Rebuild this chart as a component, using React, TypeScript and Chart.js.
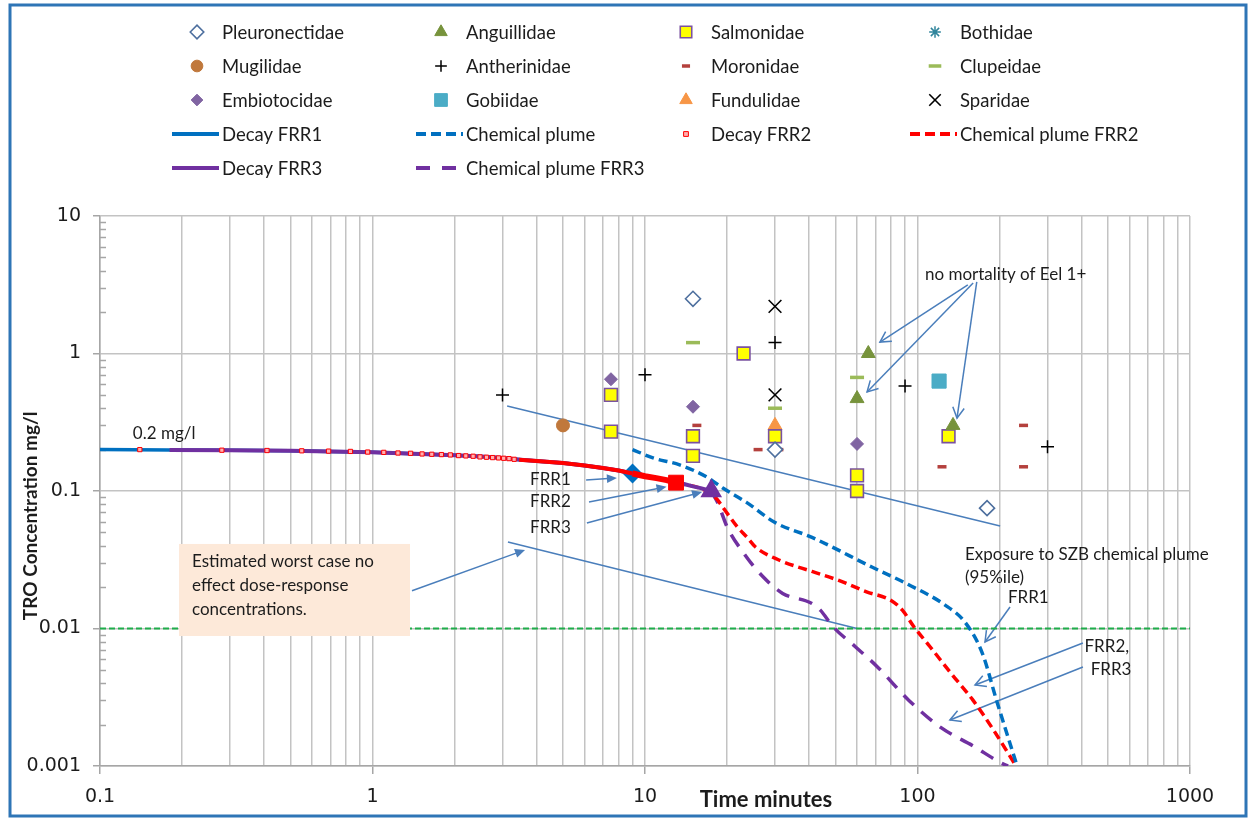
import React, { useEffect, useRef } from 'react';
import { Chart, registerables } from 'chart.js';
import { drawPoint } from 'chart.js/helpers';

Chart.register(...registerables);

// ---------- axis ticks ----------
const xDecades = [0.1, 1, 10, 100, 1000];
const xTickLabels = ['0.1', '1', '10', '100', '1000'];
const yDecades = [0.001, 0.01, 0.1, 1, 10];
const yTickLabels = ['0.001', '0.01', '0.1', '1', '10'];
const minorSteps = [2, 3, 4, 5, 6, 7, 8, 9];

// ---------- fish family dose-response observations (minutes, mg/l) ----------
const pleuronectidaeTime = [15, 30, 180];
const pleuronectidaeConc = [2.5, 0.2, 0.075];
const anguillidaeTime = [66, 60, 135];
const anguillidaeConc = [1.0, 0.47, 0.3];
const salmonidaeTime = [7.5, 7.5, 15, 15, 23, 30, 60, 60, 130];
const salmonidaeConc = [0.5, 0.27, 0.25, 0.18, 1.0, 0.25, 0.13, 0.1, 0.25];
const bothidaeTime: number[] = [];
const bothidaeConc: number[] = [];
const mugilidaeTime = [5];
const mugilidaeConc = [0.3];
const antherinidaeTime = [3, 10, 30, 90, 300];
const antherinidaeConc = [0.5, 0.7, 1.2, 0.58, 0.21];
const moronidaeTime = [15.5, 26, 31, 123, 245, 245];
const moronidaeConc = [0.3, 0.2, 0.2, 0.15, 0.3, 0.15];
const clupeidaeTime = [15, 30, 60];
const clupeidaeConc = [1.2, 0.4, 0.67];
const embiotocidaeTime = [7.5, 15, 60];
const embiotocidaeConc = [0.65, 0.41, 0.22];
const gobiidaeTime = [120];
const gobiidaeConc = [0.63];
const fundulidaeTime = [30];
const fundulidaeConc = [0.3];
const sparidaeTime = [30, 30];
const sparidaeConc = [2.2, 0.5];

// ---------- TRO decay in the cooling water ----------
const decayTime = [0.1, 0.18, 0.3, 0.5, 0.7, 1, 1.5, 2, 2.5, 3, 3.5, 4, 5, 6, 7, 8, 9, 10, 11, 12, 13, 14, 15, 16, 17.5];
const decayConc = [0.2, 0.199, 0.198, 0.196, 0.194, 0.191, 0.186, 0.182, 0.178, 0.174, 0.169, 0.165, 0.16, 0.153, 0.147, 0.141, 0.134, 0.128, 0.124, 0.12, 0.116, 0.112, 0.108, 0.105, 0.1];
const frr1End = 9;
const frr3Start = 0.18;
const frr2Time = [0.14, 0.28, 0.41, 0.55, 0.69, 0.83, 0.96, 1.1, 1.24, 1.38, 1.52, 1.65, 1.79, 1.93, 2.07, 2.2, 2.34, 2.48, 2.62, 2.76, 2.9, 3.03, 3.17, 3.31, 3.45, 4, 5, 6, 7, 8, 9, 10, 11, 12, 13];
const frr2Conc = [0.2, 0.198, 0.197, 0.196, 0.195, 0.194, 0.192, 0.191, 0.189, 0.188, 0.186, 0.185, 0.184, 0.183, 0.181, 0.18, 0.179, 0.177, 0.176, 0.175, 0.174, 0.173, 0.172, 0.17, 0.169, 0.165, 0.16, 0.153, 0.147, 0.141, 0.134, 0.128, 0.124, 0.12, 0.115];

// ---------- exposure in the SZB chemical plume (95%ile) ----------
const plumeTime = [9, 10.7, 13.4, 16.9, 19.3, 23.5, 30, 41, 68, 92, 125, 150, 173, 195, 232];
const plumeConc = [0.2, 0.174, 0.155, 0.126, 0.105, 0.083, 0.059, 0.046, 0.028, 0.021, 0.015, 0.011, 0.0066, 0.003, 0.001];
const plumeFrr2Time = [13, 16.5, 18.1, 20, 21.8, 23.7, 25.5, 31, 41, 51, 65, 80, 88, 97, 111, 133, 160, 191, 230];
const plumeFrr2Conc = [0.115, 0.102, 0.09, 0.069, 0.055, 0.046, 0.039, 0.0315, 0.026, 0.0225, 0.0185, 0.016, 0.0136, 0.0103, 0.0074, 0.0047, 0.003, 0.0018, 0.001];
const plumeFrr3Time = [17.5, 18.5, 20, 23.1, 27, 32, 41, 44, 49, 59, 71, 93, 122, 160, 203, 215];
const plumeFrr3Conc = [0.1, 0.082, 0.055, 0.035, 0.024, 0.018, 0.0152, 0.0136, 0.0103, 0.0074, 0.0053, 0.003, 0.0019, 0.0014, 0.00105, 0.001];

// ---------- no effect threshold ----------
const noEffectTime = [0.1, 1000];
const noEffectConc = [0.01, 0.01];

const LEGEND_ROWS = [
  ['Pleuronectidae', 'Anguillidae', 'Salmonidae', 'Bothidae'],
  ['Mugilidae', 'Antherinidae', 'Moronidae', 'Clupeidae'],
  ['Embiotocidae', 'Gobiidae', 'Fundulidae', 'Sparidae'],
  ['Decay FRR1', 'Chemical plume', 'Decay FRR2', 'Chemical plume FRR2'],
  ['Decay FRR3', 'Chemical plume FRR3'],
];

const BLUE = '#0070c0';
const RED = '#ff0000';
const PURPLE = '#7030a0';
const NOTE = '#4a7ebb';
const TEXT = '#1c1c1c';
const GRID = '#c3c3c3';
const AXIS = '#a6a6a6';
const CLEAR = 'rgba(0,0,0,0)';

const pts = (xs: number[], ys: number[]) => xs.map((x, i) => ({ x, y: ys[i] }));
const near = (a: number, b: number) => Math.abs(a - b) < b * 1e-6;
const withMinors = (decades: number[]) => {
  const out: number[] = [];
  decades.forEach((d, i) => {
    out.push(d);
    if (i < decades.length - 1) minorSteps.forEach((m) => out.push(Number((d * m).toPrecision(3))));
  });
  return out;
};
const isDecade = (v: number, decades: number[]) => decades.some((d) => near(v, d));
const labelOf = (v: number, decades: number[], labels: string[]) => {
  const i = decades.findIndex((d) => near(v, d));
  return i >= 0 ? labels[i] : '';
};

type Marker = { style: string; r: number; bg: string; border: string; bw: number };

const family = (label: string, t: number[], c: number[], m: Marker) => ({
  label,
  data: pts(t, c),
  showLine: false,
  pointStyle: m.style,
  pointRadius: m.r,
  pointHoverRadius: m.r,
  pointBackgroundColor: m.bg,
  pointBorderColor: m.border,
  pointBorderWidth: m.bw,
  order: 1,
  legendStyle: { kind: 'marker', ...m, r: m.r * 0.9 },
});

// annotation geometry in data units (minutes, mg/l)
const guideLines = [
  [[3.12, 0.415], [201, 0.0557]],
  [[3.14, 0.0426], [60, 0.01]],
];
const arrows: { from: number[]; to: number[]; filled: boolean }[] = [
  { from: [1.396, 0.0188], to: [3.63, 0.0373], filled: true },
  { from: [6.08, 0.1204], to: [7.89, 0.1243], filled: true },
  { from: [6.23, 0.0832], to: [12.0, 0.1073], filled: true },
  { from: [6.12, 0.0585], to: [16.2, 0.0985], filled: true },
  { from: [153, 3.15], to: [72.8, 1.21], filled: false },
  { from: [160, 3.26], to: [65.3, 0.525], filled: false },
  { from: [165, 3.32], to: [139.6, 0.339], filled: false },
  { from: [218.5, 0.01434], to: [176.9, 0.00798], filled: false },
  { from: [404.6, 0.00784], to: [162.6, 0.00388], filled: false },
  { from: [404.6, 0.00525], to: [131.5, 0.00216], filled: false },
];
const notes: { text: string; at: number[] }[] = [
  { text: '0.2 mg/l', at: [0.132, 0.26] },
  { text: 'FRR1', at: [3.785, 0.1204] },
  { text: 'FRR2', at: [3.785, 0.0832] },
  { text: 'FRR3', at: [3.785, 0.0547] },
  { text: 'no mortality of Eel 1+', at: [106.5, 3.73] },
  { text: 'Exposure to SZB chemical plume', at: [149.3, 0.0343] },
  { text: '(95%ile)', at: [149.3, 0.0233] },
  { text: 'FRR1', at: [214.7, 0.01667] },
  { text: 'FRR2,', at: [410, 0.00734] },
  { text: 'FRR3', at: [432, 0.00499] },
];
const boxCorners = [[0.195, 0.0412], [1.373, 0.00882]];
const boxLines = ['Estimated worst case no', 'effect dose-response', 'concentrations.'];
const boxLineAt = [[0.2176, 0.0305], [0.2176, 0.0204], [0.2176, 0.01363]];

const LEGEND_COL_X = [222, 466, 711, 960];
const LEGEND_ROW_Y = [32, 66, 100, 134, 168];

function markerAt(ctx: CanvasRenderingContext2D, m: Marker, x: number, y: number) {
  ctx.save();
  ctx.fillStyle = m.bg;
  ctx.strokeStyle = m.border;
  ctx.lineWidth = m.bw;
  drawPoint(ctx, { pointStyle: m.style as any, radius: m.r, rotation: 0, borderWidth: m.bw }, x, y);
  ctx.restore();
}

function arrowPath(ctx: CanvasRenderingContext2D, x1: number, y1: number, x2: number, y2: number, filled: boolean) {
  const ang = Math.atan2(y2 - y1, x2 - x1);
  const len = filled ? 11 : 12;
  const spread = filled ? 0.42 : 0.5;
  const ax = x2 - len * Math.cos(ang - spread);
  const ay = y2 - len * Math.sin(ang - spread);
  const bx = x2 - len * Math.cos(ang + spread);
  const by = y2 - len * Math.sin(ang + spread);
  ctx.beginPath();
  ctx.moveTo(x1, y1);
  ctx.lineTo(filled ? x2 - len * 0.8 * Math.cos(ang) : x2, filled ? y2 - len * 0.8 * Math.sin(ang) : y2);
  ctx.stroke();
  ctx.beginPath();
  if (filled) {
    ctx.moveTo(x2, y2);
    ctx.lineTo(ax, ay);
    ctx.lineTo(bx, by);
    ctx.closePath();
    ctx.fill();
  } else {
    ctx.moveTo(ax, ay);
    ctx.lineTo(x2, y2);
    ctx.lineTo(bx, by);
    ctx.stroke();
  }
}

const decorPlugin = {
  id: 'decor',
  beforeDraw(chart: any) {
    const ctx = chart.ctx as CanvasRenderingContext2D;
    ctx.save();
    ctx.fillStyle = '#ffffff';
    ctx.fillRect(0, 0, chart.width, chart.height);
    ctx.restore();
  },
  beforeDatasetsDraw(chart: any) {
    const ctx = chart.ctx as CanvasRenderingContext2D;
    const xs = chart.scales.x;
    const ys = chart.scales.y;
    const X = (v: number) => xs.getPixelForValue(v);
    const Y = (v: number) => ys.getPixelForValue(v);
    const area = chart.chartArea;

    // inward minor ticks on the concentration axis
    ctx.save();
    ctx.strokeStyle = AXIS;
    ctx.lineWidth = 1.5;
    ys.ticks.forEach((t: any) => {
      if (isDecade(t.value, yDecades)) return;
      const py = Math.round(Y(t.value)) + 0.5;
      ctx.beginPath();
      ctx.moveTo(area.left, py);
      ctx.lineTo(area.left + 6, py);
      ctx.stroke();
    });
    ctx.restore();

    // guide lines and arrows
    ctx.save();
    ctx.strokeStyle = NOTE;
    ctx.fillStyle = NOTE;
    ctx.lineWidth = 1.5;
    guideLines.forEach(([a, b]) => {
      ctx.beginPath();
      ctx.moveTo(X(a[0]), Y(a[1]));
      ctx.lineTo(X(b[0]), Y(b[1]));
      ctx.stroke();
    });
    arrows.forEach((a) => arrowPath(ctx, X(a.from[0]), Y(a.from[1]), X(a.to[0]), Y(a.to[1]), a.filled));
    ctx.restore();
  },
  afterDatasetsDraw(chart: any) {
    const ctx = chart.ctx as CanvasRenderingContext2D;
    const xs = chart.scales.x;
    const ys = chart.scales.y;
    const X = (v: number) => xs.getPixelForValue(v);
    const Y = (v: number) => ys.getPixelForValue(v);
    const area = chart.chartArea;

    // note box
    ctx.save();
    const bx0 = X(boxCorners[0][0]);
    const by0 = Y(boxCorners[0][1]);
    const bx1 = X(boxCorners[1][0]);
    const by1 = Y(boxCorners[1][1]);
    ctx.fillStyle = '#fde9d9';
    ctx.fillRect(bx0, by0, bx1 - bx0, by1 - by0);
    ctx.fillStyle = TEXT;
    ctx.font = '17px Lato';
    ctx.textBaseline = 'middle';
    ctx.textAlign = 'left';
    boxLines.forEach((s, i) => ctx.fillText(s, X(boxLineAt[i][0]), Y(boxLineAt[i][1])));

    // text notes
    ctx.font = '17px Lato';
    notes.forEach((n) => ctx.fillText(n.text, X(n.at[0]), Y(n.at[1])));

    // axis titles
    ctx.font = 'bold 22px Lato';
    ctx.textAlign = 'center';
    ctx.fillText('Time minutes', X(27.8), area.bottom + 34);
    ctx.save();
    ctx.translate(area.left - 69, Y(0.066));
    ctx.rotate(-Math.PI / 2);
    ctx.font = 'bold 19px Lato';
    ctx.fillText('TRO Concentration mg/l', 0, 0);
    ctx.restore();
    ctx.restore();
  },
  afterDraw(chart: any) {
    const ctx = chart.ctx as CanvasRenderingContext2D;
    const byLabel = (name: string) => chart.data.datasets.find((d: any) => d.label === name);

    // legend grid
    ctx.save();
    ctx.font = '18.5px Lato';
    ctx.fillStyle = TEXT;
    ctx.textBaseline = 'middle';
    ctx.textAlign = 'left';
    LEGEND_ROWS.forEach((row, r) => {
      row.forEach((name, c) => {
        const ds = byLabel(name);
        const tx = LEGEND_COL_X[c];
        const ty = LEGEND_ROW_Y[r];
        const ls = ds.legendStyle;
        if (ls.kind === 'line') {
          ctx.save();
          ctx.strokeStyle = ls.color;
          ctx.lineWidth = ls.width;
          ctx.setLineDash(ls.dash);
          ctx.beginPath();
          ctx.moveTo(tx - 50, ty);
          ctx.lineTo(tx - 3, ty);
          ctx.stroke();
          ctx.restore();
        } else {
          markerAt(ctx, ls, tx - 25, ty);
        }
        ctx.fillStyle = TEXT;
        ctx.fillText(name, tx, ty + 1);
      });
    });
    ctx.restore();

    // outer frame
    ctx.save();
    ctx.strokeStyle = '#2e75b6';
    ctx.lineWidth = 3;
    ctx.strokeRect(10, 5, 1236, 811);
    ctx.restore();
  },
};

export default function App() {
  const canvasRef = useRef<HTMLCanvasElement>(null);

  useEffect(() => {
    const frr1Idx = decayTime.filter((t) => t <= frr1End).length;
    const frr3From = decayTime.findIndex((t) => t >= frr3Start);
    const frr1 = pts(decayTime.slice(0, frr1Idx), decayConc.slice(0, frr1Idx));
    const frr3 = pts(decayTime.slice(frr3From), decayConc.slice(frr3From));
    const frr2 = pts(frr2Time, frr2Conc);
    const markerLimit = 3.4;

    const datasets: any[] = [
      family('Pleuronectidae', pleuronectidaeTime, pleuronectidaeConc, { style: 'rectRot', r: 7.5, bg: '#ffffff', border: '#4d6f9e', bw: 1.6 }),
      family('Anguillidae', anguillidaeTime, anguillidaeConc, { style: 'triangle', r: 8, bg: '#77933c', border: '#77933c', bw: 1 }),
      family('Salmonidae', salmonidaeTime, salmonidaeConc, { style: 'rect', r: 9, bg: '#ffff00', border: '#7a52a0', bw: 1.6 }),
      family('Bothidae', bothidaeTime, bothidaeConc, { style: 'star', r: 6.5, bg: '#31859c', border: '#31859c', bw: 1.5 }),
      family('Mugilidae', mugilidaeTime, mugilidaeConc, { style: 'circle', r: 6.5, bg: '#c0783c', border: '#c0783c', bw: 1 }),
      family('Antherinidae', antherinidaeTime, antherinidaeConc, { style: 'cross', r: 6.5, bg: '#000000', border: '#000000', bw: 1.5 }),
      family('Moronidae', moronidaeTime, moronidaeConc, { style: 'line', r: 4.5, bg: '#b4403d', border: '#b4403d', bw: 3.5 }),
      family('Clupeidae', clupeidaeTime, clupeidaeConc, { style: 'line', r: 7, bg: '#9bbb59', border: '#9bbb59', bw: 3.5 }),
      family('Embiotocidae', embiotocidaeTime, embiotocidaeConc, { style: 'rectRot', r: 6.5, bg: '#8064a2', border: '#8064a2', bw: 1 }),
      family('Gobiidae', gobiidaeTime, gobiidaeConc, { style: 'rect', r: 10, bg: '#4bacc6', border: '#4bacc6', bw: 1 }),
      family('Fundulidae', fundulidaeTime, fundulidaeConc, { style: 'triangle', r: 8, bg: '#f79646', border: '#f79646', bw: 1 }),
      family('Sparidae', sparidaeTime, sparidaeConc, { style: 'crossRot', r: 9, bg: '#000000', border: '#000000', bw: 1.6 }),
      {
        label: 'Decay FRR2',
        data: frr2,
        showLine: true,
        borderColor: RED,
        borderWidth: 4,
        segment: {
          borderColor: (s: any) => (s.p0.parsed.x < markerLimit ? CLEAR : RED),
          borderWidth: (s: any) => (s.p0.parsed.x >= frr1End ? 6 : 4),
        },
        pointStyle: 'rect',
        pointRadius: (c: any) => (c.dataIndex === frr2.length - 1 ? 10.5 : c.raw && c.raw.x < markerLimit ? 3 : 0),
        pointBackgroundColor: (c: any) => (c.dataIndex === frr2.length - 1 ? RED : '#ffb0b0'),
        pointBorderColor: RED,
        pointBorderWidth: 1,
        order: 2,
        legendStyle: { kind: 'marker', style: 'rect', r: 3.4, bg: '#ffb0b0', border: RED, bw: 1 },
      },
      {
        label: 'Decay FRR3',
        data: frr3,
        showLine: true,
        borderColor: PURPLE,
        borderWidth: 4,
        pointStyle: 'triangle',
        pointRadius: (c: any) => (c.dataIndex === frr3.length - 1 ? 8.5 : 0),
        pointBackgroundColor: PURPLE,
        pointBorderColor: PURPLE,
        order: 3,
        legendStyle: { kind: 'line', color: PURPLE, width: 4, dash: [] },
      },
      {
        label: 'Decay FRR1',
        data: frr1,
        showLine: true,
        borderColor: BLUE,
        borderWidth: 3.5,
        pointStyle: 'rectRot',
        pointRadius: (c: any) => (c.dataIndex === frr1.length - 1 ? 7.5 : 0),
        pointBackgroundColor: BLUE,
        pointBorderColor: BLUE,
        order: 4,
        legendStyle: { kind: 'line', color: BLUE, width: 4, dash: [] },
      },
      {
        label: 'Chemical plume',
        data: pts(plumeTime, plumeConc),
        showLine: true,
        borderColor: BLUE,
        borderWidth: 3.5,
        borderDash: [9, 5],
        cubicInterpolationMode: 'monotone',
        pointRadius: 0,
        order: 5,
        legendStyle: { kind: 'line', color: BLUE, width: 4, dash: [10, 5] },
      },
      {
        label: 'Chemical plume FRR2',
        data: pts(plumeFrr2Time, plumeFrr2Conc),
        showLine: true,
        borderColor: RED,
        borderWidth: 3.5,
        borderDash: [9, 5],
        cubicInterpolationMode: 'monotone',
        pointRadius: 0,
        order: 5,
        legendStyle: { kind: 'line', color: RED, width: 4, dash: [10, 5] },
      },
      {
        label: 'Chemical plume FRR3',
        data: pts(plumeFrr3Time, plumeFrr3Conc),
        showLine: true,
        borderColor: PURPLE,
        borderWidth: 3.5,
        borderDash: [14, 10],
        cubicInterpolationMode: 'monotone',
        pointRadius: 0,
        order: 5,
        legendStyle: { kind: 'line', color: PURPLE, width: 4, dash: [14, 12] },
      },
      {
        label: 'No effect threshold',
        data: pts(noEffectTime, noEffectConc),
        showLine: true,
        borderColor: '#1fad4b',
        borderWidth: 2,
        borderDash: [6, 3],
        pointRadius: 0,
        order: 6,
        legendStyle: { kind: 'line', color: '#1fad4b', width: 2, dash: [6, 3] },
      },
    ];

    const xTicks = withMinors(xDecades);
    const yTicks = withMinors(yDecades);

    const chart = new Chart(canvasRef.current as HTMLCanvasElement, {
      type: 'scatter',
      data: { datasets },
      plugins: [decorPlugin],
      options: {
        responsive: false,
        animation: false,
        events: [],
        layout: { padding: { left: 0, right: 59, top: 216, bottom: 0 } },
        plugins: { legend: { display: false }, tooltip: { enabled: false }, title: { display: false } },
        scales: {
          x: {
            type: 'logarithmic',
            min: 0.1,
            max: 1000,
            afterBuildTicks: (s: any) => {
              s.ticks = xTicks.map((v) => ({ value: v }));
            },
            afterFit: (s: any) => {
              s.height = 52;
            },
            ticks: {
              autoSkip: false,
              maxRotation: 0,
              padding: 12,
              color: TEXT,
              font: { family: '"DejaVu Sans"', size: 19 },
              callback: (v: any) => labelOf(Number(v), xDecades, xTickLabels),
            },
            grid: {
              color: GRID,
              lineWidth: 1.5,
              tickLength: 8,
              tickColor: (c: any) => (c.tick && isDecade(c.tick.value, xDecades) ? AXIS : CLEAR),
            },
            border: { color: AXIS, width: 1.5 },
          },
          y: {
            type: 'logarithmic',
            min: 0.001,
            max: 10,
            afterBuildTicks: (s: any) => {
              s.ticks = yTicks.map((v) => ({ value: v }));
            },
            afterFit: (s: any) => {
              s.width = 100;
            },
            ticks: {
              autoSkip: false,
              padding: 12,
              color: TEXT,
              font: { family: '"DejaVu Sans"', size: 19 },
              callback: (v: any) => labelOf(Number(v), yDecades, yTickLabels),
            },
            grid: {
              color: (c: any) => (c.tick && isDecade(c.tick.value, yDecades) ? GRID : CLEAR),
              lineWidth: 1.5,
              tickLength: 7,
              tickColor: (c: any) => (c.tick && isDecade(c.tick.value, yDecades) ? AXIS : CLEAR),
            },
            border: { color: AXIS, width: 1.5 },
          },
        },
      } as any,
    });
    return () => chart.destroy();
  }, []);

  return (
    <div style={{ position: 'fixed', left: 0, top: 0, width: 1249, height: 818, background: '#ffffff' }}>
      <canvas ref={canvasRef} width={1249} height={818} style={{ display: 'block', width: 1249, height: 818 }} />
    </div>
  );
}
